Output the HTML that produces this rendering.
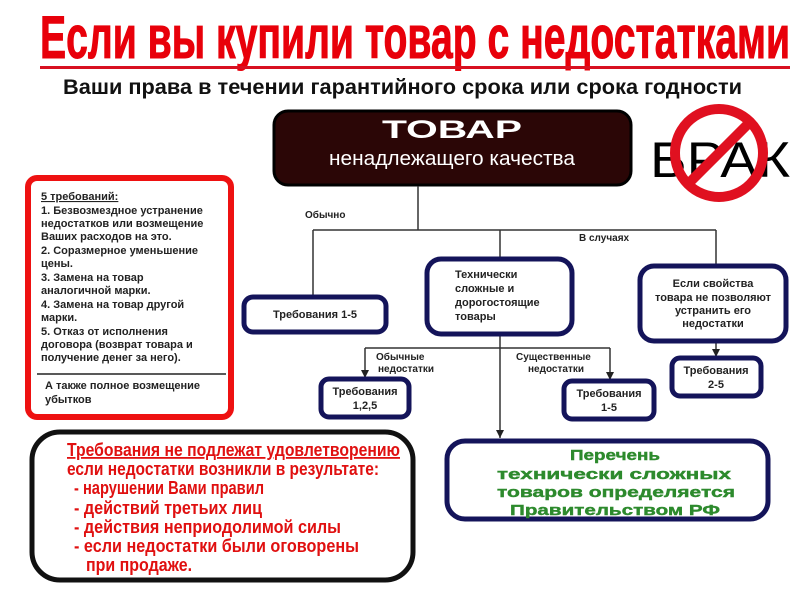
<!DOCTYPE html>
<html><head><meta charset="utf-8"><style>html,body{margin:0;padding:0;background:#fff;width:800px;height:600px;overflow:hidden}</style></head>
<body>
<svg width="800" height="600" xmlns="http://www.w3.org/2000/svg" font-family="'Liberation Sans', sans-serif">
<defs><marker id="a" markerWidth="8" markerHeight="8" refX="8" refY="4" orient="auto" markerUnits="userSpaceOnUse"><path d="M0,0 L8,4 L0,8 z" fill="#222"/></marker></defs>
<rect width="800" height="600" fill="#fff"/>
<text x="40" y="58" font-weight="bold" font-size="60" fill="#e8000a" stroke="#e8000a" stroke-width="1" textLength="750" lengthAdjust="spacingAndGlyphs">Если вы купили товар с недостатками</text>
<rect x="40" y="66" width="750" height="3" fill="#d81020"/>
<text x="63" y="94" font-weight="bold" font-size="21" fill="#111" textLength="679" lengthAdjust="spacingAndGlyphs">Ваши права в течении гарантийного срока или срока годности</text>

<rect x="274" y="111" width="357" height="74" rx="14" fill="#2b0606" stroke="#000" stroke-width="3"/>
<text x="452" y="138" text-anchor="middle" font-weight="bold" font-size="25" fill="#fff" textLength="140" lengthAdjust="spacingAndGlyphs">ТОВАР</text>
<text x="452" y="165" text-anchor="middle" font-size="20" fill="#fff" textLength="246" lengthAdjust="spacingAndGlyphs">ненадлежащего качества</text>

<text x="650" y="177" font-size="50" fill="#000" textLength="140" lengthAdjust="spacingAndGlyphs">БРАК</text>
<circle cx="719" cy="153" r="44" fill="none" stroke="#e01020" stroke-width="10"/>
<line x1="688" y1="184" x2="750" y2="122" stroke="#e01020" stroke-width="10"/>

<rect x="28" y="178" width="203" height="239" rx="9" fill="#fff" stroke="#ee1111" stroke-width="6"/>
<g font-weight="bold" font-size="11" fill="#222">
<text x="41" y="200" text-decoration="underline">5 требований:</text>
<text x="41" y="214">1. Безвозмездное устранение</text>
<text x="41" y="227">недостатков или возмещение</text>
<text x="41" y="240">Ваших расходов на это.</text>
<text x="41" y="254">2. Соразмерное уменьшение</text>
<text x="41" y="267">цены.</text>
<text x="41" y="281">3. Замена на товар</text>
<text x="41" y="294">аналогичной марки.</text>
<text x="41" y="308">4. Замена на товар другой</text>
<text x="41" y="321">марки.</text>
<text x="41" y="335">5. Отказ от исполнения</text>
<text x="41" y="348">договора (возврат товара и</text>
<text x="41" y="361">получение денег за него).</text>
<text x="45" y="389">А также полное возмещение</text>
<text x="45" y="403">убытков</text>
</g>
<line x1="37" y1="374" x2="226" y2="374" stroke="#222" stroke-width="1.5"/>

<g stroke="#333" stroke-width="1.5" fill="none">
<path d="M418,186 V230 M313,230 H716 M313,230 V295 M500,230 V258 M716,230 V265"/>
<path d="M500,335 V438" marker-end="url(#a)"/>
<path d="M365,348 H610"/>
<path d="M365,348 V378" marker-end="url(#a)"/>
<path d="M610,348 V380" marker-end="url(#a)"/>
<path d="M716,342 V357" marker-end="url(#a)"/>
</g>
<g font-weight="bold" font-size="10" fill="#222">
<text x="305" y="218">Обычно</text>
<text x="579" y="241">В случаях</text>
<text x="376" y="360">Обычные</text>
<text x="378" y="372">недостатки</text>
<text x="516" y="360">Существенные</text>
<text x="528" y="372">недостатки</text>
</g>

<g fill="#fff" stroke="#14145a" stroke-width="5">
<rect x="244" y="297" width="142" height="35" rx="9"/>
<rect x="427" y="259" width="145" height="75" rx="14"/>
<rect x="640" y="266" width="146" height="75" rx="14"/>
<rect x="321" y="379" width="88" height="38" rx="8"/>
<rect x="564" y="381" width="90" height="38" rx="8"/>
<rect x="672" y="358" width="89" height="38" rx="8"/>
<rect x="447" y="441" width="321" height="78" rx="18"/>
</g>
<g font-weight="bold" font-size="11" fill="#222">
<text x="315" y="318" text-anchor="middle">Требования 1-5</text>
<text x="455" y="278">Технически</text>
<text x="455" y="292">сложные и</text>
<text x="455" y="306">дорогостоящие</text>
<text x="455" y="320">товары</text>
<text x="713" y="287" text-anchor="middle">Если свойства</text>
<text x="713" y="301" text-anchor="middle">товара не позволяют</text>
<text x="713" y="314" text-anchor="middle">устранить его</text>
<text x="713" y="327" text-anchor="middle">недостатки</text>
<text x="365" y="395" text-anchor="middle">Требования</text>
<text x="365" y="409" text-anchor="middle">1,2,5</text>
<text x="609" y="397" text-anchor="middle">Требования</text>
<text x="609" y="411" text-anchor="middle">1-5</text>
<text x="716" y="374" text-anchor="middle">Требования</text>
<text x="716" y="388" text-anchor="middle">2-5</text>
</g>
<g font-weight="bold" font-size="15" fill="#2d8a2d" stroke="#2d8a2d" stroke-width="0.4">
<text x="570" y="460" textLength="90" lengthAdjust="spacingAndGlyphs">Перечень</text>
<text x="497" y="479" textLength="234" lengthAdjust="spacingAndGlyphs">технически сложных</text>
<text x="497" y="497" textLength="238" lengthAdjust="spacingAndGlyphs">товаров определяется</text>
<text x="510" y="515" textLength="210" lengthAdjust="spacingAndGlyphs">Правительством РФ</text>
</g>

<rect x="32" y="432" width="381" height="148" rx="28" fill="#fff" stroke="#111" stroke-width="5"/>
<g font-size="18" font-weight="bold" fill="#e01010">
<text x="67" y="456" text-decoration="underline" textLength="333" lengthAdjust="spacingAndGlyphs">Требования не подлежат удовлетворению</text>
<text x="67" y="475" textLength="312" lengthAdjust="spacingAndGlyphs">если недостатки возникли в результате:</text>
<text x="74" y="494" textLength="190" lengthAdjust="spacingAndGlyphs">- нарушении Вами правил</text>
<text x="74" y="514" textLength="188" lengthAdjust="spacingAndGlyphs">- действий третьих лиц</text>
<text x="74" y="533" textLength="267" lengthAdjust="spacingAndGlyphs">- действия неприодолимой силы</text>
<text x="74" y="552" textLength="285" lengthAdjust="spacingAndGlyphs">- если недостатки были оговорены</text>
<text x="86" y="571" textLength="106" lengthAdjust="spacingAndGlyphs">при продаже.</text>
</g>
</svg>
</body></html>
